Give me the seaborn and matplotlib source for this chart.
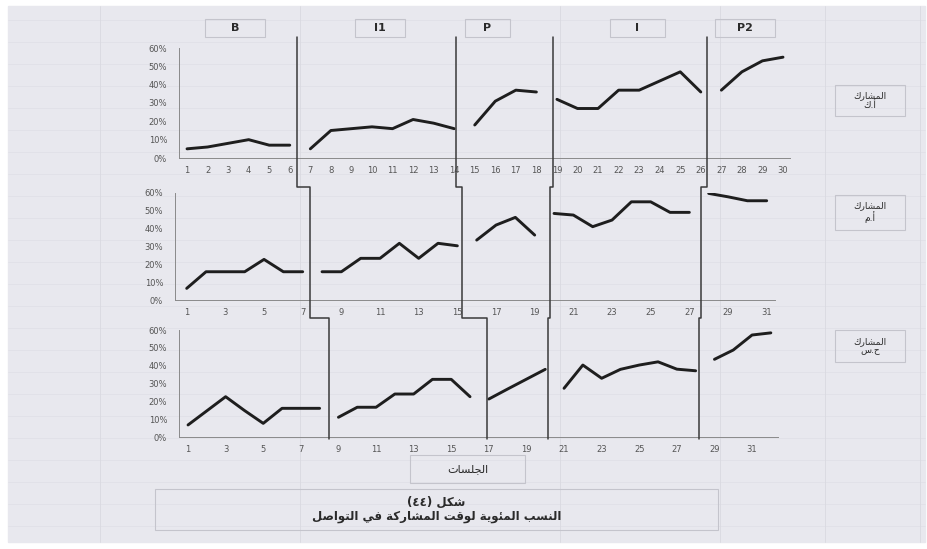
# -*- coding: utf-8 -*-
# multiple baseline chart: percent of participation time in communication
# three participants, five phases (B, I1, P, I, P2)

import numpy as np
import pandas as pd
import matplotlib
matplotlib.use("Agg")
import matplotlib.pyplot as plt
import seaborn as sns
from matplotlib.lines import Line2D
from matplotlib.patches import Rectangle
from matplotlib.ticker import PercentFormatter, FixedLocator


# %%
# data (values are fractions, 0.10 = 10%)
phases = ["B", "I1", "P", "I", "P2"]

# number of sessions in each phase, per participant
phase_len_ak = [6, 8, 4, 8, 4]
phase_len_am = [7, 8, 4, 8, 4]
phase_len_hs = [8, 8, 4, 8, 4]

values_ak = [0.05, 0.06, 0.08, 0.10, 0.07, 0.07,
             0.05, 0.15, 0.16, 0.17, 0.16, 0.21, 0.19, 0.16,
             0.18, 0.31, 0.37, 0.36,
             0.32, 0.27, 0.27, 0.37, 0.37, 0.42, 0.47, 0.36,
             0.37, 0.47, 0.53, 0.55]

values_am = [0.065, 0.158, 0.158, 0.158, 0.227, 0.158, 0.158,
             0.158, 0.158, 0.233, 0.233, 0.317, 0.233, 0.317, 0.303,
             0.335, 0.419, 0.462, 0.363,
             0.484, 0.475, 0.41, 0.447, 0.549, 0.549, 0.49, 0.49,
             0.596, 0.577, 0.555, 0.555]

values_hs = [0.069, 0.148, 0.227, 0.15, 0.078, 0.162, 0.162, 0.162,
             0.112, 0.168, 0.168, 0.242, 0.242, 0.324, 0.324, 0.227,
             0.214, 0.27, 0.325, 0.38,
             0.274, 0.404, 0.33, 0.38, 0.404, 0.422, 0.381, 0.372,
             0.436, 0.488, 0.572, 0.584]

# where the phase change lines cross each participant's session axis
breaks_ak = [6.35, 14.1, 18.8, 26.3]
breaks_am = [7.4, 15.25, 19.8, 27.6]
breaks_hs = [8.5, 16.9, 20.15, 28.2]

participants = ["المشارك\nأ.ك", "المشارك\nأ.م", "المشارك\nح.س"]
x_title = "الجلسات"
fig_no = "شكل (٤٤)"
caption = "النسب المئوية لوقت المشاركة في التواصل"


# %%
# matplotlib has no arabic shaping, so map letters to their
# presentation forms and flip the string for right-to-left display
AR_FORMS = {
    "ء": (0xFE80, 1), "آ": (0xFE81, 2), "أ": (0xFE83, 2), "ؤ": (0xFE85, 2),
    "إ": (0xFE87, 2), "ئ": (0xFE89, 4), "ا": (0xFE8D, 2), "ب": (0xFE8F, 4),
    "ة": (0xFE93, 2), "ت": (0xFE95, 4), "ث": (0xFE99, 4), "ج": (0xFE9D, 4),
    "ح": (0xFEA1, 4), "خ": (0xFEA5, 4), "د": (0xFEA9, 2), "ذ": (0xFEAB, 2),
    "ر": (0xFEAD, 2), "ز": (0xFEAF, 2), "س": (0xFEB1, 4), "ش": (0xFEB5, 4),
    "ص": (0xFEB9, 4), "ض": (0xFEBD, 4), "ط": (0xFEC1, 4), "ظ": (0xFEC5, 4),
    "ع": (0xFEC9, 4), "غ": (0xFECD, 4), "ف": (0xFED1, 4), "ق": (0xFED5, 4),
    "ك": (0xFED9, 4), "ل": (0xFEDD, 4), "م": (0xFEE1, 4), "ن": (0xFEE5, 4),
    "ه": (0xFEE9, 4), "و": (0xFEED, 2), "ى": (0xFEEF, 2), "ي": (0xFEF1, 4),
}


def shape_line(text):
    out = []
    for i, ch in enumerate(text):
        if ch not in AR_FORMS:
            out.append(ch)
            continue
        base, n = AR_FORMS[ch]
        prev = text[i - 1] if i > 0 else ""
        nxt = text[i + 1] if i + 1 < len(text) else ""
        join_prev = prev in AR_FORMS and AR_FORMS[prev][1] == 4
        join_next = n == 4 and nxt in AR_FORMS and AR_FORMS[nxt][1] >= 2
        if n == 1:
            k = 0
        elif n == 2:
            k = 1 if join_prev else 0
        elif join_prev and join_next:
            k = 3
        elif join_prev:
            k = 1
        elif join_next:
            k = 2
        else:
            k = 0
        out.append(chr(base + k))
    vis = "".join(reversed(out))
    return vis.translate(str.maketrans("()", ")("))


def ar(text):
    return "\n".join(shape_line(t) for t in text.split("\n"))


# %%
# build one tidy frame per participant
def make_df(values, lengths):
    phase_col = np.repeat(phases, lengths)
    return pd.DataFrame({
        "session": np.arange(1, len(values) + 1),
        "value": values,
        "phase": phase_col,
    })


rows = [
    (make_df(values_ak, phase_len_ak), breaks_ak),
    (make_df(values_am, phase_len_am), breaks_am),
    (make_df(values_hs, phase_len_hs), breaks_hs),
]


# %%
sns.set_style("white")
plt.rcParams["font.family"] = ["DejaVu Sans"]

W, H = 928, 549
bg = "#e8e8ee"
fig = plt.figure(figsize=(W / 100, H / 100), dpi=100, facecolor="white")

# sheet background with faint spreadsheet cells
fig.patches.append(Rectangle((8 / W, 0.012), 917 / W, 1 - 0.012 - 6 / H,
                             transform=fig.transFigure, color=bg, zorder=-10))
for yy in range(20, 545, 22):
    fig.add_artist(Line2D([8 / W, 925 / W], [1 - yy / H] * 2, color="#dfdfe6",
                          lw=0.5, zorder=-9))
for xx in [100, 300, 560, 720, 825, 920]:
    fig.add_artist(Line2D([xx / W] * 2, [0.012, 1 - 6 / H], color="#d9d9e0",
                          lw=0.6, zorder=-9))

# axes boxes in pixels: left, right, y of 0%, y of 60%, xlim
layout = [
    (179, 790, 158.0, 48.0, (0.61, 30.34)),
    (175, 775, 300.0, 192.7, (0.395, 31.43)),
    (179, 778, 437.3, 330.0, (0.52, 32.38)),
]

axes = []
for i, ((df, brk), (l, r, y0, y60, xl)) in enumerate(zip(rows, layout)):
    ax = fig.add_axes([l / W, 1 - y0 / H, (r - l) / W, (y0 - y60) / H])
    ax.set_facecolor("none")
    sns.lineplot(data=df, x="session", y="value", units="phase",
                 estimator=None, color="#1e1e1e", lw=2.1, ax=ax)
    ax.set_xlim(*xl)
    ax.set_ylim(0, 0.6)
    ax.yaxis.set_major_locator(FixedLocator(np.arange(0, 0.61, 0.1)))
    ax.yaxis.set_major_formatter(PercentFormatter(1.0, decimals=0))
    n = len(df)
    ax.set_xticks(np.arange(1, n + 1))
    if i == 0:
        ax.set_xticklabels([str(s) for s in range(1, n + 1)])
    else:
        ax.set_xticklabels([str(s) if s % 2 == 1 else "" for s in range(1, n + 1)])
    ax.tick_params(axis="both", length=2.5, width=0.6, color="#888888",
                   labelsize=6, labelcolor="#555555", pad=3)
    ax.tick_params(axis="y", pad=6)
    sns.despine(ax=ax)
    for sp in ["left", "bottom"]:
        ax.spines[sp].set_color("#8a8a8a")
        ax.spines[sp].set_linewidth(0.7)
    ax.set_xlabel("")
    ax.set_ylabel("")
    axes.append(ax)


# %%
# stepped phase change lines running through the three panels
def disp_x(ax, x):
    return ax.transData.transform((x, 0))[0]


def disp_y(ax, y):
    return ax.transData.transform((1, y))[1]


inv = fig.transFigure.inverted()
top_y = disp_y(axes[0], 0.66)
conn1 = disp_y(axes[1], 0.63)
conn2 = disp_y(axes[2], 0.665)
bot_y = disp_y(axes[2], -0.01)
for j in range(4):
    x1 = disp_x(axes[0], rows[0][1][j])
    x2 = disp_x(axes[1], rows[1][1][j])
    x3 = disp_x(axes[2], rows[2][1][j])
    pts = np.array([(x1, top_y), (x1, conn1), (x2, conn1), (x2, conn2),
                    (x3, conn2), (x3, bot_y)])
    pts = inv.transform(pts)
    fig.add_artist(Line2D(pts[:, 0], pts[:, 1], color="#3a3a3a", lw=1.1))


# %%
# label cells
def cell(x0, y0, x1, y1, text, size, weight="normal"):
    fig.patches.append(Rectangle((x0 / W, 1 - y1 / H), (x1 - x0) / W, (y1 - y0) / H,
                                 transform=fig.transFigure, fill=False,
                                 edgecolor="#c4c4cc", lw=0.8))
    fig.text((x0 + x1) / 2 / W, 1 - (y0 + y1) / 2 / H, text, ha="center",
             va="center", fontsize=size, color="#2a2a2a", weight=weight,
             linespacing=1.1)


phase_cells = [(205, 265), (355, 405), (465, 510), (610, 665), (715, 775)]
for (x0, x1), name in zip(phase_cells, phases):
    cell(x0, 19, x1, 37, name, 8, "bold")

for (y0, y1), name in zip([(85, 116), (195, 230), (330, 362)], participants):
    cell(835, y0, 905, y1, ar(name), 6.5)

cell(410, 455, 525, 483, ar(x_title), 8)
cell(155, 489, 718, 530, ar(fig_no) + "\n" + ar(caption), 8.5, "bold")

fig.savefig("out.png", dpi=100, facecolor=fig.get_facecolor())
